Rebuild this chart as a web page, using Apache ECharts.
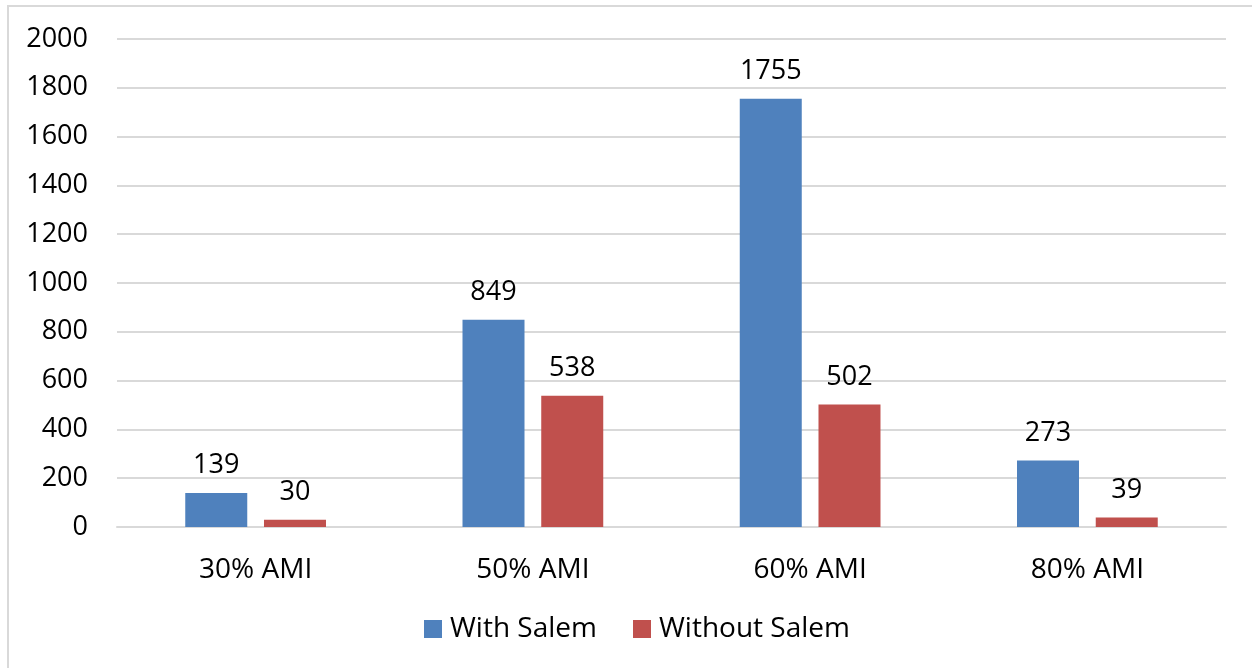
<!DOCTYPE html>
<html>
<head>
<meta charset="utf-8">
<script src="https://cdn.jsdelivr.net/npm/echarts@6/dist/echarts.min.js"></script>
<style>
html,body{margin:0;padding:0;background:#fff;}
#c{width:1252px;height:668px;}
</style>
</head>
<body>
<div id="c"></div>
<script>
var categories = ['30% AMI', '50% AMI', '60% AMI', '80% AMI'];
var withSalem = [139, 849, 1755, 273];
var withoutSalem = [30, 538, 502, 39];
var seriesNames = ['With Salem', 'Without Salem'];

var chart = echarts.init(document.getElementById('c'));
var font = '"Open Sans", "Noto Sans", sans-serif';
var labelStyle = {show: true, position: 'top', distance: 14, color: '#000', fontSize: 27, fontFamily: font};
chart.setOption({
  animation: false,
  textStyle: {fontFamily: font},
  graphic: [
    {type: 'line', shape: {x1: 8, y1: 6, x2: 8, y2: 668}, style: {stroke: '#d9d9d9', lineWidth: 2}},
    {type: 'line', shape: {x1: 7, y1: 6, x2: 1252, y2: 6}, style: {stroke: '#d9d9d9', lineWidth: 2}}
  ],
  grid: {left: 117, right: 26, top: 39, bottom: 141, containLabel: false},
  legend: {
    data: seriesNames,
    bottom: 20,
    left: 419,
    itemWidth: 18, itemHeight: 18, itemGap: 36,
    icon: 'rect',
    textStyle: {fontSize: 28, color: '#000', fontFamily: font, padding: [0, 0, 0, 3]}
  },
  xAxis: {
    type: 'category',
    data: categories,
    axisTick: {show: false},
    axisLine: {lineStyle: {color: '#d9d9d9', width: 2}},
    axisLabel: {fontSize: 28, color: '#000', margin: 29, fontFamily: font}
  },
  yAxis: {
    type: 'value',
    min: 0, max: 2000, interval: 200,
    axisLine: {show: false},
    axisTick: {show: false},
    splitLine: {lineStyle: {color: '#d9d9d9', width: 2}},
    axisLabel: {fontSize: 27, color: '#000', margin: 29, fontFamily: font,
      formatter: function (v) { return String(v); }}
  },
  series: [
    {name: seriesNames[0], type: 'bar', data: withSalem, barWidth: 62, barGap: '27%',
     itemStyle: {color: '#4F81BD'}, label: labelStyle},
    {name: seriesNames[1], type: 'bar', data: withoutSalem, barWidth: 62, barGap: '27%',
     itemStyle: {color: '#C0504D'}, label: labelStyle}
  ]
});
</script>
</body>
</html>
